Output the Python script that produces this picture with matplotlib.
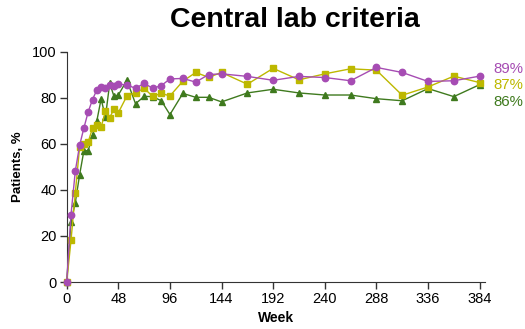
import matplotlib
matplotlib.use('Agg')
import matplotlib.pyplot as plt

# weeks at which the response was measured
weeks = [0, 4, 8, 12, 16, 20, 24, 28, 32, 36, 40, 44, 48,
         56, 64, 72, 80, 88, 96, 108, 120, 132,
         144, 168, 192, 216, 240, 264, 288, 312, 336, 360, 384]

purple_vals = [0, 29.3, 48.2, 59.4, 67, 74, 79.3, 83.5, 84.7, 84.4, 85.7, 85.4, 86,
               85.7, 84.2, 86.4, 84.2, 85.4, 88.3, 88.5, 86.9, 90.2,
               90.5, 89.4, 87.7, 89.4, 88.9, 87.5, 93.3, 91.1, 87.2, 87.5, 89.5]
yellow_vals = [0, 18.1, 38.7, 58.6, 60, 60.9, 66.9, 68.2, 67.3, 74.2, 71.5, 75.2, 73.6,
               80.9, 82.3, 84.2, 80.7, 82, 80.9, 87.3, 91.1, 89,
               91.1, 86, 92.9, 87.9, 90.5, 92.7, 92.1, 81.2, 84.8, 89.5, 86.7]
green_vals = [0, 26.3, 34.5, 46.6, 57.1, 57.1, 64, 70, 79.6, 71.7, 86.4, 80.7, 81.3,
              87.7, 77.5, 80.7, 80.6, 78.8, 72.8, 82, 80.3, 80.3,
              78.3, 82.2, 83.8, 82.2, 81.3, 81.3, 79.7, 78.8, 84.1, 80.6, 85.8]

end_labels = ['89%', '87%', '86%']
xticks = [0, 48, 96, 144, 192, 240, 288, 336, 384]
yticks = [0, 20, 40, 60, 80, 100]

purple = '#a64cb3'
yellow = '#bdb800'
green = '#3f7a1e'

plt.rcParams['font.family'] = ['Liberation Sans', 'DejaVu Sans']

fig = plt.figure(figsize=(5.25, 3.29), dpi=100)
ax = fig.add_axes([66.7 / 525, 1 - 282 / 329, (485 - 66.7) / 525, 230 / 329])

ax.plot(weeks, green_vals, color=green, lw=1.0, marker='^', ms=5, clip_on=False, zorder=3)
ax.plot(weeks, yellow_vals, color=yellow, lw=1.0, marker='s', ms=4.3, clip_on=False, zorder=4)
ax.plot(weeks, purple_vals, color=purple, lw=1.0, marker='o', ms=4.6, clip_on=False, zorder=5)

ax.set_xlim(0, 389)
ax.set_ylim(0, 100)
ax.set_xticks(xticks)
ax.set_yticks(yticks)
ax.tick_params(labelsize=10.5, length=5, width=1, color='#333333', pad=2)
for s in ['top', 'right']:
    ax.spines[s].set_visible(False)
for s in ['left', 'bottom']:
    ax.spines[s].set_color('#333333')

ax.set_xlabel('Week', fontsize=10, fontweight='bold', labelpad=4)
ax.set_ylabel('Patients, %', fontsize=9.5, fontweight='bold', labelpad=6)

fig.text(295 / 525, 1 - 20 / 329, 'Central lab criteria', fontsize=20.5, fontweight='bold',
         ha='center', va='center')

for lbl, col, y in zip(end_labels, [purple, yellow, green], [69, 85, 102]):
    fig.text(523 / 525, 1 - y / 329, lbl, color=col, fontsize=10.8, ha='right', va='center')

fig.savefig('out.png', dpi=100)
